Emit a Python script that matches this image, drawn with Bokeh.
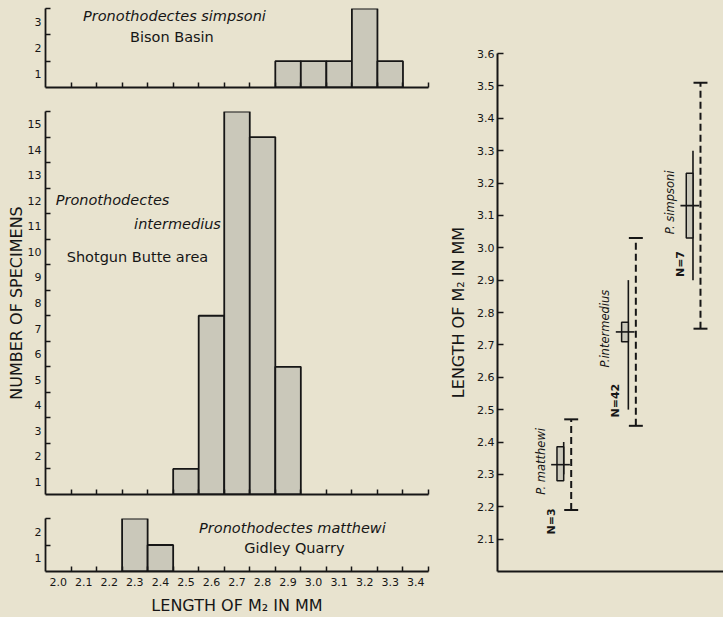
import numpy as np
from bokeh.plotting import figure
from bokeh.layouts import row, column
from bokeh.models import FixedTicker, Range1d, PrintfTickFormatter, CustomJSTickFormatter
from bokeh.core.properties import value
from bokeh.embed import file_html
from bokeh.resources import INLINE

# ---------------- data ----------------
x_label_values = [2.0, 2.1, 2.2, 2.3, 2.4, 2.5, 2.6, 2.7, 2.8, 2.9, 3.0, 3.1, 3.2, 3.3, 3.4]
bin_edges = [2.05, 2.15, 2.25, 2.35, 2.45, 2.55, 2.65, 2.75, 2.85, 2.95, 3.05, 3.15, 3.25, 3.35, 3.45]

simpsoni_bins = [2.9, 3.0, 3.1, 3.2, 3.3]
simpsoni_counts = [1, 1, 1, 3, 1]
intermedius_bins = [2.5, 2.6, 2.7, 2.8, 2.9]
intermedius_counts = [1, 7, 15, 14, 5]
matthewi_bins = [2.3, 2.4]
matthewi_counts = [2, 1]

species_pos = [1, 2, 3]
species_names = ["P. matthewi", "P.intermedius", "P. simpsoni"]
species_n = ["N=3", "N=42", "N=7"]
mean_len = [2.33, 2.74, 3.13]
obs_min = [2.19, 2.45, 2.75]
obs_max = [2.47, 3.03, 3.51]
sd_low = [2.30, 2.50, 2.90]
sd_high = [2.40, 2.90, 3.30]
se_low = [2.28, 2.71, 3.03]
se_high = [2.385, 2.77, 3.23]
right_ticks = [2.1, 2.2, 2.3, 2.4, 2.5, 2.6, 2.7, 2.8, 2.9, 3.0, 3.1, 3.2, 3.3, 3.4, 3.5, 3.6]

# ---------------- style ----------------
BG = "#e8e3cf"
BAR = "#cac8ba"
INK = "#161616"
FONT = "DejaVu Sans"
TICK_FS = "11px"
TITLE_FS = "16px"
NOTE_FS = "14.5px"

x_range = Range1d(1.95, 3.45)


def hist_fig(height, ymax, b_top, b_bottom, bins, counts, show_x_labels=False, ylabel=None):
    p = figure(width=440, height=height, x_range=x_range, y_range=Range1d(0, ymax),
               output_backend="svg", toolbar_location=None,
               min_border_left=45, min_border_right=12, min_border_top=b_top,
               min_border_bottom=b_bottom, background_fill_color=BG,
               border_fill_color=BG, outline_line_color=None)
    p.grid.visible = False
    p.vbar(x=bins, top=counts, bottom=0, width=0.1, fill_color=BAR,
           line_color=INK, line_width=1.8)

    xa = p.xaxis[0]
    xa.ticker = FixedTicker(ticks=x_label_values, minor_ticks=bin_edges)
    xa.major_tick_in = 0
    xa.major_tick_out = 0
    xa.minor_tick_in = 5
    xa.minor_tick_out = 0
    xa.minor_tick_line_color = INK
    xa.minor_tick_line_width = 1.5
    xa.axis_line_color = INK
    xa.axis_line_width = 1.8
    xa.major_label_text_font = FONT
    xa.major_label_text_color = INK
    xa.major_label_text_font_size = TICK_FS
    if show_x_labels:
        xa.formatter = PrintfTickFormatter(format="%.1f")
        xa.major_label_standoff = 6
        xa.axis_label = "LENGTH OF M\u2082 IN MM"
        xa.axis_label_text_font = FONT
        xa.axis_label_text_font_size = TITLE_FS
        xa.axis_label_text_font_style = "normal"
        xa.axis_label_text_color = INK
        xa.axis_label_standoff = 7
    else:
        xa.formatter = CustomJSTickFormatter(code="return ''")
        xa.major_label_standoff = 0

    ya = p.yaxis[0]
    ya.ticker = FixedTicker(ticks=[k + 0.5 for k in range(ymax)],
                            minor_ticks=[k + 1 for k in range(ymax)])
    ya.formatter = CustomJSTickFormatter(code="return (tick + 0.5).toFixed(0)")
    ya.major_tick_in = 0
    ya.major_tick_out = 0
    ya.minor_tick_in = 5
    ya.minor_tick_out = 0
    ya.minor_tick_line_color = INK
    ya.minor_tick_line_width = 1.5
    ya.axis_line_color = INK
    ya.axis_line_width = 1.8
    ya.major_label_text_font = FONT
    ya.major_label_text_font_size = TICK_FS
    ya.major_label_text_color = INK
    ya.major_label_standoff = 4
    if ylabel:
        ya.axis_label = ylabel
        ya.axis_label_text_font = FONT
        ya.axis_label_text_font_size = TITLE_FS
        ya.axis_label_text_font_style = "normal"
        ya.axis_label_text_color = INK
        ya.axis_label_standoff = -1
    return p


def label(p, x, y, txt, style="normal", align="center", size=NOTE_FS):
    p.text(x=[x], y=[y], text=[txt], text_font=value(FONT), text_font_style=style,
           text_font_size=size, text_align=align, text_baseline="middle",
           text_color=INK)


p_top = hist_fig(100, 3, 8, 13, simpsoni_bins, simpsoni_counts)
label(p_top, 2.455, 2.73, "Pronothodectes simpsoni", "italic")
label(p_top, 2.445, 1.93, "Bison Basin")

p_mid = hist_fig(406, 15, 11, 12, intermedius_bins, intermedius_counts,
                 ylabel="NUMBER OF SPECIMENS")
label(p_mid, 1.99, 11.55, "Pronothodectes", "italic", "left")
label(p_mid, 2.637, 10.6, "intermedius", "italic", "right")
label(p_mid, 2.033, 9.3, "Shotgun Butte area", "normal", "left")

p_bot = hist_fig(111, 2, 12, 46, matthewi_bins, matthewi_counts, show_x_labels=True)
label(p_bot, 2.917, 1.66, "Pronothodectes matthewi", "italic")
label(p_bot, 2.925, 0.9, "Gidley Quarry")

# ---------------- right panel ----------------
pr = figure(width=283, height=617, x_range=Range1d(-0.14, 3.356), y_range=Range1d(2.0, 3.6),
            output_backend="svg", toolbar_location=None,
            min_border_left=57, min_border_right=0, min_border_top=53, min_border_bottom=46,
            background_fill_color=BG, border_fill_color=BG, outline_line_color=None)
pr.grid.visible = False

xs = np.array(species_pos, dtype=float)
CAP = 0.108      # half width of range caps (data units)
SD_DX = -0.116   # offset of solid line
BOX_L = -0.22    # box left offset
MEAN_L, MEAN_R = -0.31, -0.02

pr.segment(x0=xs, y0=obs_min, x1=xs, y1=obs_max, line_color=INK, line_width=2,
           line_dash="7 4")
pr.segment(x0=xs - CAP, y0=obs_min, x1=xs + CAP, y1=obs_min, line_color=INK, line_width=2)
pr.segment(x0=xs - CAP, y0=obs_max, x1=xs + CAP, y1=obs_max, line_color=INK, line_width=2)
pr.segment(x0=xs + SD_DX, y0=sd_low, x1=xs + SD_DX, y1=sd_high, line_color=INK,
           line_width=1.6)
pr.quad(left=xs + BOX_L, right=xs + SD_DX, bottom=se_low, top=se_high,
        fill_color=BAR, line_color=INK, line_width=1.5)
pr.segment(x0=xs + MEAN_L, y0=mean_len, x1=xs + MEAN_R, y1=mean_len, line_color=INK,
           line_width=1.6)

pr.text(x=xs, y=np.array(mean_len) + 0.01, text=species_names, x_offset=-30.5,
        angle=np.pi / 2, text_font=value(FONT), text_font_style="italic",
        text_font_size="11.5px", text_align="center", text_baseline="middle",
        text_color=INK)
n_label_top = [2.195, 2.58, 2.99]
pr.text(x=xs, y=n_label_top, text=species_n, x_offset=-20,
        angle=np.pi / 2, text_font=value(FONT), text_font_style="bold",
        text_font_size="11px", text_align="right", text_baseline="middle",
        text_color=INK)

ra = pr.yaxis[0]
ra.ticker = FixedTicker(ticks=right_ticks)
ra.formatter = PrintfTickFormatter(format="%.1f")
ra.major_tick_in = 6
ra.major_tick_out = 0
ra.minor_tick_line_color = None
ra.major_tick_line_color = INK
ra.major_tick_line_width = 1.5
ra.axis_line_color = INK
ra.axis_line_width = 2
ra.major_label_text_font = FONT
ra.major_label_text_font_size = TICK_FS
ra.major_label_text_color = INK
ra.major_label_standoff = 3
ra.axis_label = "LENGTH OF M\u2082 IN MM"
ra.axis_label_text_font = FONT
ra.axis_label_text_font_size = TITLE_FS
ra.axis_label_text_font_style = "normal"
ra.axis_label_text_color = INK
ra.axis_label_standoff = 6

rx = pr.xaxis[0]
rx.ticker = FixedTicker(ticks=[])
rx.major_tick_in = 0
rx.major_tick_out = 0
rx.minor_tick_line_color = None
rx.axis_line_color = INK
rx.axis_line_width = 2

left_col = column(p_top, p_mid, p_bot, spacing=0, styles={"background-color": BG})
layout = row(left_col, pr, spacing=0, styles={"background-color": BG})

open("out.html", "w").write(file_html(layout, INLINE))
